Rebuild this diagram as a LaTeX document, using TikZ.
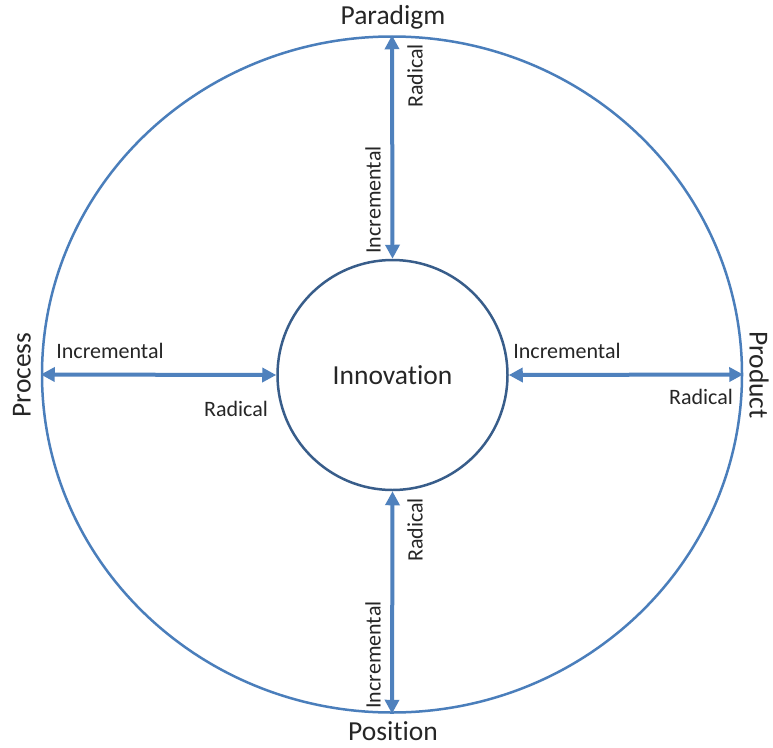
\documentclass[tikz,border=0pt]{standalone}
\usepackage{fontspec}
\setmainfont[Ligatures=NoCommon]{Carlito}
\usetikzlibrary{arrows.meta,shapes.geometric}
\definecolor{arrowblue}{HTML}{4F81BD}
\definecolor{outerblue}{HTML}{4A7EBB}
\definecolor{innerblue}{HTML}{385D8A}
\begin{document}
\begin{tikzpicture}[x=1pt,y=-1pt,
  bigtext/.style={font=\fontsize{27.5}{31}\selectfont, text=black!85, inner sep=0pt},
  smalltext/.style={font=\fontsize{22}{25}\selectfont, text=black!85, inner sep=0pt},
  conn/.style={arrowblue, line width=4pt, {Triangle[length=14pt,width=14pt]}-{Triangle[length=14pt,width=14pt]}}]
\useasboundingbox (0,0) rectangle (773,747);
\fill[white] (0,0) rectangle (773,747);
\node[ellipse, draw=outerblue, line width=2.5pt, minimum width=700pt, minimum height=676pt, inner sep=0pt] (outer) at (392,374.5) {};
\node[circle, draw=innerblue, line width=2.5pt, minimum size=230pt, inner sep=0pt, bigtext] (inno) at (392.5,375) {Innovation};
\draw[conn] (outer.north) -- (inno.north);
\draw[conn] (inno.south) -- (outer.south);
\draw[conn] (outer.west) -- (inno.west);
\draw[conn] (inno.east) -- (outer.east);
\node[bigtext] (paradigm) at (393,17) {Paradigm};
\node[bigtext] (position) at (393,731.5) {Position};
\node[bigtext, rotate=90] (process) at (22,375) {Process};
\node[bigtext, rotate=-90] (product) at (759,375) {Product};
\node[smalltext, rotate=90] (tr) at (415,76) {Radical};
\node[smalltext, rotate=90] (ti) at (373,200) {Incremental};
\node[smalltext, rotate=90] (br) at (415,530) {Radical};
\node[smalltext, rotate=90] (bi) at (373,655) {Incremental};
\node[smalltext] (li) at (110,351) {Incremental};
\node[smalltext] (lr) at (236,409) {Radical};
\node[smalltext] (ri) at (567,351) {Incremental};
\node[smalltext] (rr) at (701,397) {Radical};
\end{tikzpicture}
\end{document}
